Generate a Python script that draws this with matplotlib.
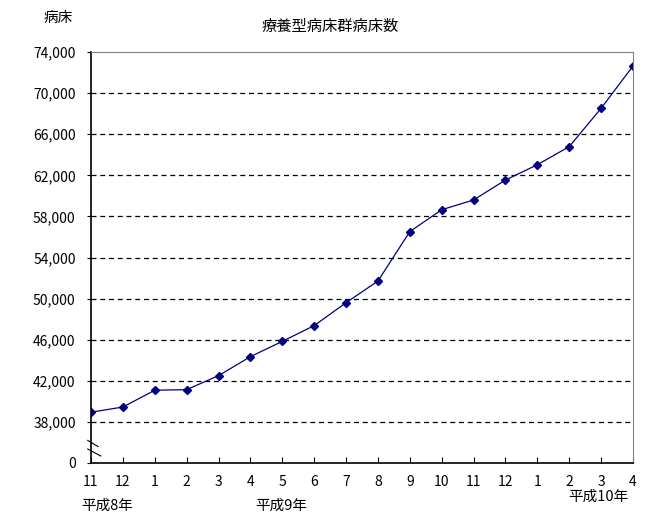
import matplotlib
matplotlib.use('Agg')
from matplotlib import pyplot as plt
from matplotlib.ticker import FixedLocator, FixedFormatter
import numpy as np

plt.rcParams['font.family'] = ['Noto Sans CJK JP', 'DejaVu Sans']

# data (病床数, 平成8年11月 - 平成10年4月)
months = ['11', '12', '1', '2', '3', '4', '5', '6', '7', '8',
          '9', '10', '11', '12', '1', '2', '3', '4']
beds = [38940, 39450, 41080, 41140, 42500, 44350, 45840, 47370, 49600,
        51710, 56520, 58650, 59600, 61540, 63030, 64790, 68520, 72640]
ytick_vals = [38000, 42000, 46000, 50000, 54000, 58000, 62000, 66000, 70000, 74000]
ytick_labels = ['38,000', '42,000', '46,000', '50,000', '54,000', '58,000',
                '62,000', '66,000', '70,000', '74,000']
axis_base = 34000   # 波線より下は 0 として表示

fig = plt.figure(figsize=(6.58, 5.30), dpi=100)
ax = fig.add_axes([91 / 658, 1 - 463 / 530, 542 / 658, 411 / 530])

x = np.arange(len(months))
ax.plot(x, beds, color='#000080', lw=0.9, marker='D', ms=4.5,
        markerfacecolor='#000080', markeredgecolor='#000080')

ax.set_xlim(0, len(months) - 1)
ax.set_ylim(axis_base, 74000)

ax.yaxis.set_major_locator(FixedLocator([axis_base] + ytick_vals))
ax.yaxis.set_major_formatter(FixedFormatter(['0'] + ytick_labels))
ax.set_xticks(x)
ax.set_xticklabels(months)

for v in ytick_vals[:-1]:
    ax.axhline(v, color='black', lw=0.9, ls=(0, (4, 3)), zorder=0)

for s in ['top', 'right']:
    ax.spines[s].set_color('#808080')
for s in ['left', 'bottom']:
    ax.spines[s].set_color('black')
    ax.spines[s].set_linewidth(1.2)

ax.tick_params(axis='x', direction='in', length=4, pad=9, labelsize=10)
ax.tick_params(axis='y', direction='out', length=3, pad=8, labelsize=10)

# 省略記号
for (x0, y0, x1, y1) in [(-0.006, 0.055, 0.013, 0.040), (-0.006, 0.034, 0.018, 0.017)]:
    ax.plot([x0, x1], [y0, y1], transform=ax.transAxes, color='black',
            lw=0.8, clip_on=False)

fig.text(330 / 658, 1 - 27 / 530, '療養型病床群病床数', ha='center', va='center', fontsize=11)
fig.text(58 / 658, 1 - 18 / 530, '病床', ha='center', va='center', fontsize=10.5)
fig.text(107 / 658, 1 - 506 / 530, '平成8年', ha='center', va='center', fontsize=10.5)
fig.text(281 / 658, 1 - 506 / 530, '平成9年', ha='center', va='center', fontsize=10.5)
fig.text(598 / 658, 1 - 497 / 530, '平成10年', ha='center', va='center', fontsize=10.5)

fig.savefig('out.png', dpi=100)
